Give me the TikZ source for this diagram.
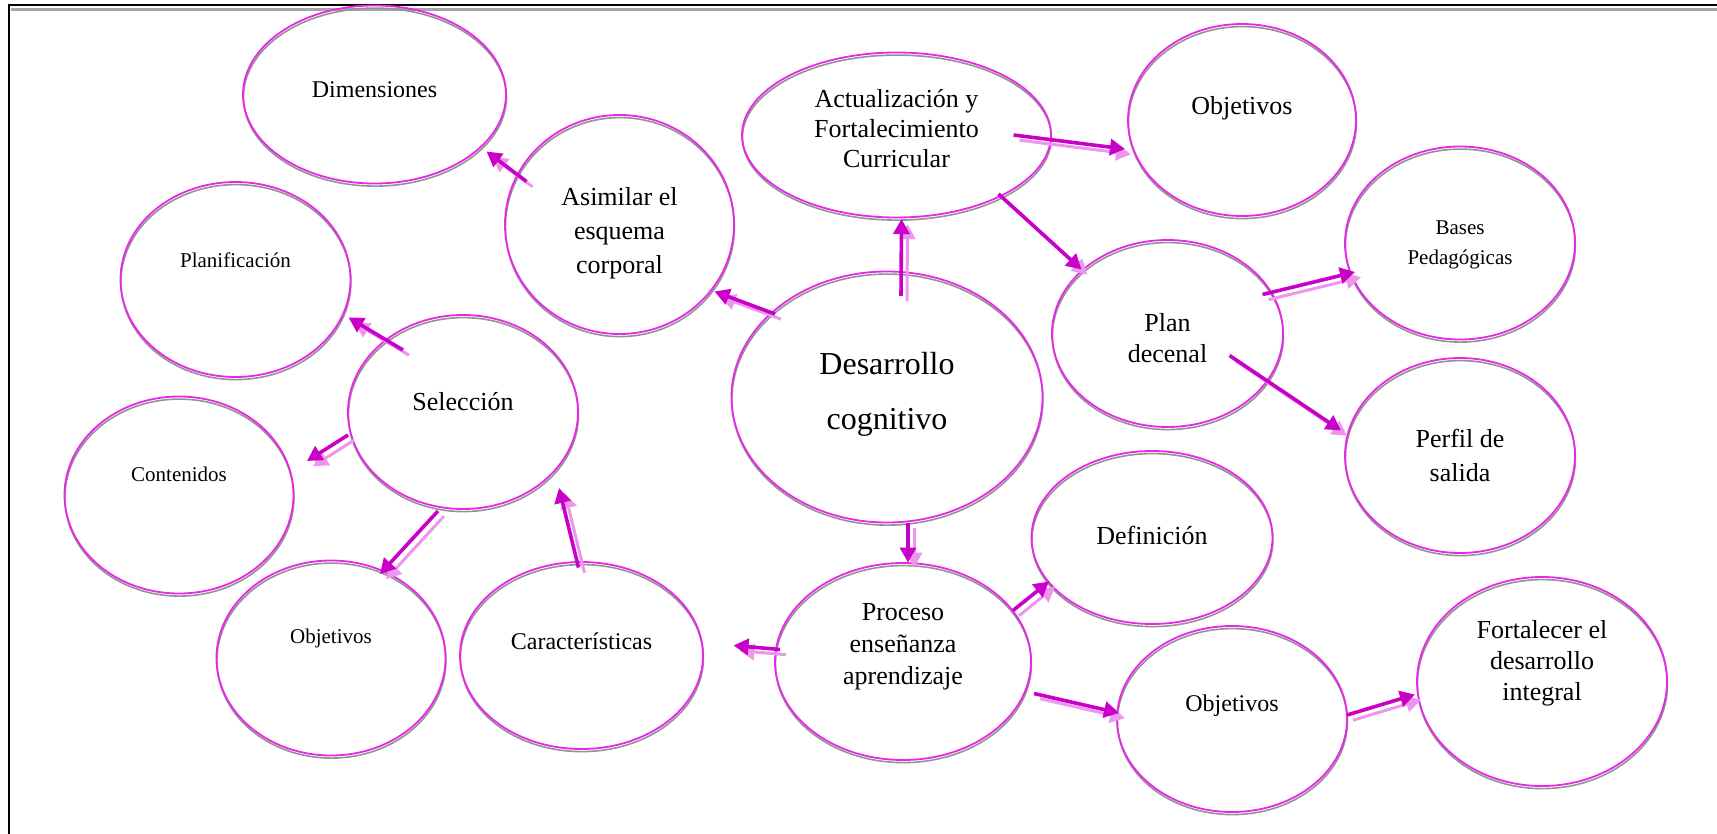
\documentclass[tikz,border=0pt]{standalone}
\usepackage{fontspec}
\setmainfont{Liberation Serif}
\usetikzlibrary{shapes.geometric,arrows.meta,calc}

\definecolor{bubline}{RGB}{232,40,232}
\definecolor{arrline}{RGB}{200,0,200}
\definecolor{arrshade}{RGB}{236,150,236}

\tikzset{
    bub/.style 2 args={ellipse, draw=bubline, line width=0.9pt, inner sep=0pt,
        minimum width=0.5pt*#1, minimum height=0.5pt*#2,
        preaction={draw=gray!85, line width=0.8pt, transform canvas={shift={(0.2pt,-1.3pt)}}}},
    lbl/.style={align=center, inner sep=0pt},
    huge/.style={font=\fontsize{16}{27.5}\selectfont},
    big/.style={font=\fontsize{13}{15.5}\selectfont},
    mid/.style={font=\fontsize{12}{15}\selectfont},
    sml/.style={font=\fontsize{10.5}{15.3}\selectfont},
    arr/.style={draw=arrline, line width=1.8pt, -{Triangle[length=7.5pt,width=8pt]},
        preaction={draw=arrshade, line width=1.5pt, -{Triangle[length=7.5pt,width=8pt]},
            transform canvas={shift={(3pt,-2.6pt)}}}}
}

\begin{document}
\begin{tikzpicture}[x=0.5pt,y=-0.5pt]
    \useasboundingbox (0,0) rectangle (1717,834);
    % frame
    \draw[line width=1.2pt] (9,834) -- (9,5) -- (1717,5);
    \draw[gray!70, line width=1.5pt] (11,9.5) -- (1717,9.5);

    % bubbles
    \node[bub={263}{178}] (dim) at (374.5,94.5) {};
    \node[bub={229}{219}] (asi) at (619.5,224.5) {};
    \node[bub={309}{165}] (act) at (896.5,135) {};
    \node[bub={228}{192}] (obj1) at (1242,120) {};
    \node[bub={230}{193}] (bas) at (1460,243) {};
    \node[bub={231}{187}] (pla) at (1167.5,333.5) {};
    \node[bub={230}{195}] (per) at (1460,455.5) {};
    \node[bub={311}{251}] (des) at (887,397) {};
    \node[bub={230}{195}] (plf) at (235.5,279.5) {};
    \node[bub={230}{194}] (sel) at (463,412) {};
    \node[bub={229}{197}] (con) at (179,495) {};
    \node[bub={229}{195}] (obl) at (331,658) {};
    \node[bub={243}{187}] (car) at (581.5,655.5) {};
    \node[bub={256}{197}] (pro) at (903,661.5) {};
    \node[bub={241}{173}] (def) at (1152,537.5) {};
    \node[bub={230}{186}] (obr) at (1232,719) {};
    \node[bub={250}{209}] (fort) at (1542,681.5) {};

    % texts
    \node[lbl, mid] (dim-t) at ($(dim)+(0,-5)$) {Dimensiones};
    \node[lbl, big, font=\fontsize{13}{17}\selectfont] (asi-t) at ($(asi)+(0,8.5)$) {Asimilar el\\esquema\\corporal};
    \node[lbl, big, font=\fontsize{13}{15}\selectfont] (act-t) at ($(act)+(0,-6)$) {Actualización y\\Fortalecimiento\\Curricular};
    \node[lbl, big] (obj1-t) at ($(obj1)+(0,-11.5)$) {Objetivos};
    \node[lbl, sml] (bas-t) at ($(bas)+(0,2)$) {Bases\\Pedagógicas};
    \node[lbl, big] (pla-t) at ($(pla)+(0,5)$) {Plan\\decenal};
    \node[lbl, big, font=\fontsize{13}{17}\selectfont] (per-t) at ($(per)+(0,0)$) {Perfil de\\salida};
    \node[lbl, huge] (des-t) at ($(des)+(0,-3)$) {Desarrollo\\cognitivo};
    \node[lbl, sml] (plf-t) at ($(plf)+(0,-19)$) {Planificación};
    \node[lbl, big] (sel-t) at ($(sel)+(0,-10)$) {Selección};
    \node[lbl, sml] (con-t) at ($(con)+(0,-21)$) {Contenidos};
    \node[lbl, sml] (obl-t) at ($(obl)+(0,-20)$) {Objetivos};
    \node[lbl, mid] (car-t) at ($(car)+(0,-14)$) {Características};
    \node[lbl, big, font=\fontsize{13}{16}\selectfont] (pro-t) at ($(pro)+(0,-14.5)$) {Proceso\\enseñanza\\aprendizaje};
    \node[lbl, big] (def-t) at ($(def)+(0,-2)$) {Definición};
    \node[lbl, mid] (obr-t) at ($(obr)+(0,-13)$) {Objetivos};
    \node[lbl, big] (fort-t) at ($(fort)+(0,-18)$) {Fortalecer el\\desarrollo\\integral};

    % arrows
    \draw[arr] ([shift={(-93,-43)}]asi.center) -- ([shift={(112,57)}]dim.center);
    \draw[arr] ([shift={(-112,-83)}]des.center) -- ([shift={(95,67)}]asi.center);
    \draw[arr] ([shift={(14,-101)}]des.center) -- ([shift={(5,84)}]act.center);
    \draw[arr] ([shift={(117,0)}]act.center) -- ([shift={(-117,29)}]obj1.center);
    \draw[arr] ([shift={(102,59)}]act.center) -- ([shift={(-86,-64)}]pla.center);
    \draw[arr] ([shift={(95,-39)}]pla.center) -- ([shift={(-105,29)}]bas.center);
    \draw[arr] ([shift={(62,22)}]pla.center) -- ([shift={(-119,-25)}]per.center);
    \draw[arr] ([shift={(-60,-62)}]sel.center) -- ([shift={(113,38)}]plf.center);
    \draw[arr] ([shift={(-115,23)}]sel.center) -- ([shift={(128,-34)}]con.center);
    \draw[arr] ([shift={(-25,99)}]sel.center) -- ([shift={(49,-84)}]obl.center);
    \draw[arr] ([shift={(-3,-88)}]car.center) -- ([shift={(96,76)}]sel.center);
    \draw[arr] ([shift={(21,126)}]des.center) -- ([shift={(5,-99)}]pro.center);
    \draw[arr] ([shift={(-123,-12)}]pro.center) -- ([shift={(152,-10)}]car.center);
    \draw[arr] ([shift={(110,-51)}]pro.center) -- ([shift={(-103,44)}]def.center);
    \draw[arr] ([shift={(131,32)}]pro.center) -- ([shift={(-113,-6)}]obr.center);
    \draw[arr] ([shift={(115,-4)}]obr.center) -- ([shift={(-127,13)}]fort.center);
\end{tikzpicture}
\end{document}
